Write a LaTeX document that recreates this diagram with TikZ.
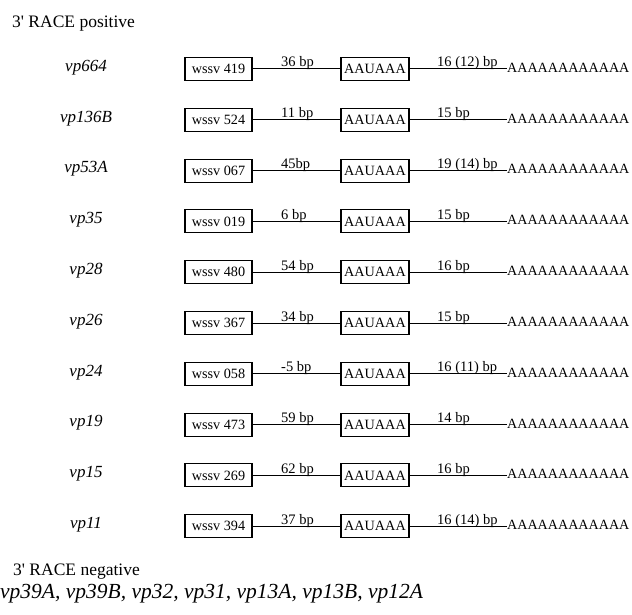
\documentclass[tikz,border=0pt]{standalone}
\usepackage{fontspec}
\setmainfont{Liberation Serif}[Ligatures=TeXOff]
\begin{document}
\begin{tikzpicture}[x=1pt,y=-1pt,
  titletext/.style={anchor=base west,inner sep=0pt,font=\fontsize{17.5}{20}\selectfont},
  genelabel/.style={anchor=mid,inner sep=0pt,font=\fontsize{17}{20}\selectfont\itshape},
  wbox/.style={draw,line width=1.1pt,minimum width=67pt,minimum height=23pt,inner sep=0pt,font=\fontsize{14.2}{16}\selectfont},
  abox/.style={draw,line width=1.1pt,minimum width=68pt,minimum height=23pt,inner sep=0pt,font=\fontsize{14.2}{16}\selectfont},
  bplabel/.style={anchor=base west,inner sep=0pt,font=\fontsize{14.5}{16}\selectfont},
  polya/.style={anchor=base west,inner sep=0pt,font=\fontsize{14.1}{16}\selectfont},
  link/.style={line width=1pt}]
\useasboundingbox (0,0) rectangle (632,615);
\node[titletext] (pos) at (12,28) {3' RACE positive};
\foreach \n/\lab/\ws/\ba/\bb in {
  1/vp664/419/36 bp/16 (12) bp,
  2/vp136B/524/11 bp/15 bp,
  3/vp53A/067/45bp/19 (14) bp,
  4/vp35/019/6 bp/15 bp,
  5/vp28/480/54 bp/16 bp,
  6/vp26/367/34 bp/15 bp,
  7/vp24/058/-5 bp/16 (11) bp,
  8/vp19/473/59 bp/14 bp,
  9/vp15/269/62 bp/16 bp,
  10/vp11/394/37 bp/16 (14) bp}{
  \pgfmathsetmacro{\yy}{69+50.8*(\n-1)}
  \node[genelabel] (g\n) at (86,\yy) {\lab};
  \node[wbox] (w\n) at (218.5,\yy) {wssv \ws};
  \node[abox] (a\n) at (375,\yy) {AAUAAA};
  \node[bplabel] (b\n) at (281,\yy-2) {\ba};
  \node[bplabel] (c\n) at (437,\yy-2) {\bb};
  \node[polya] (p\n) at (507,\yy+3.4) {AAAAAAAAAAAA};
  \draw[link] (w\n.east) -- (a\n.west);
  \draw[link] (a\n.east) -- (a\n.east -| p\n.west);
}
\node[titletext] (neg) at (13,575) {3' RACE negative};
\node[anchor=base west,inner sep=0pt,font=\fontsize{21.5}{24}\selectfont\itshape] (negl) at (0,598)
  {vp39A, vp39B, vp32, vp31, vp13A, vp13B, vp12A};
\end{tikzpicture}
\end{document}
